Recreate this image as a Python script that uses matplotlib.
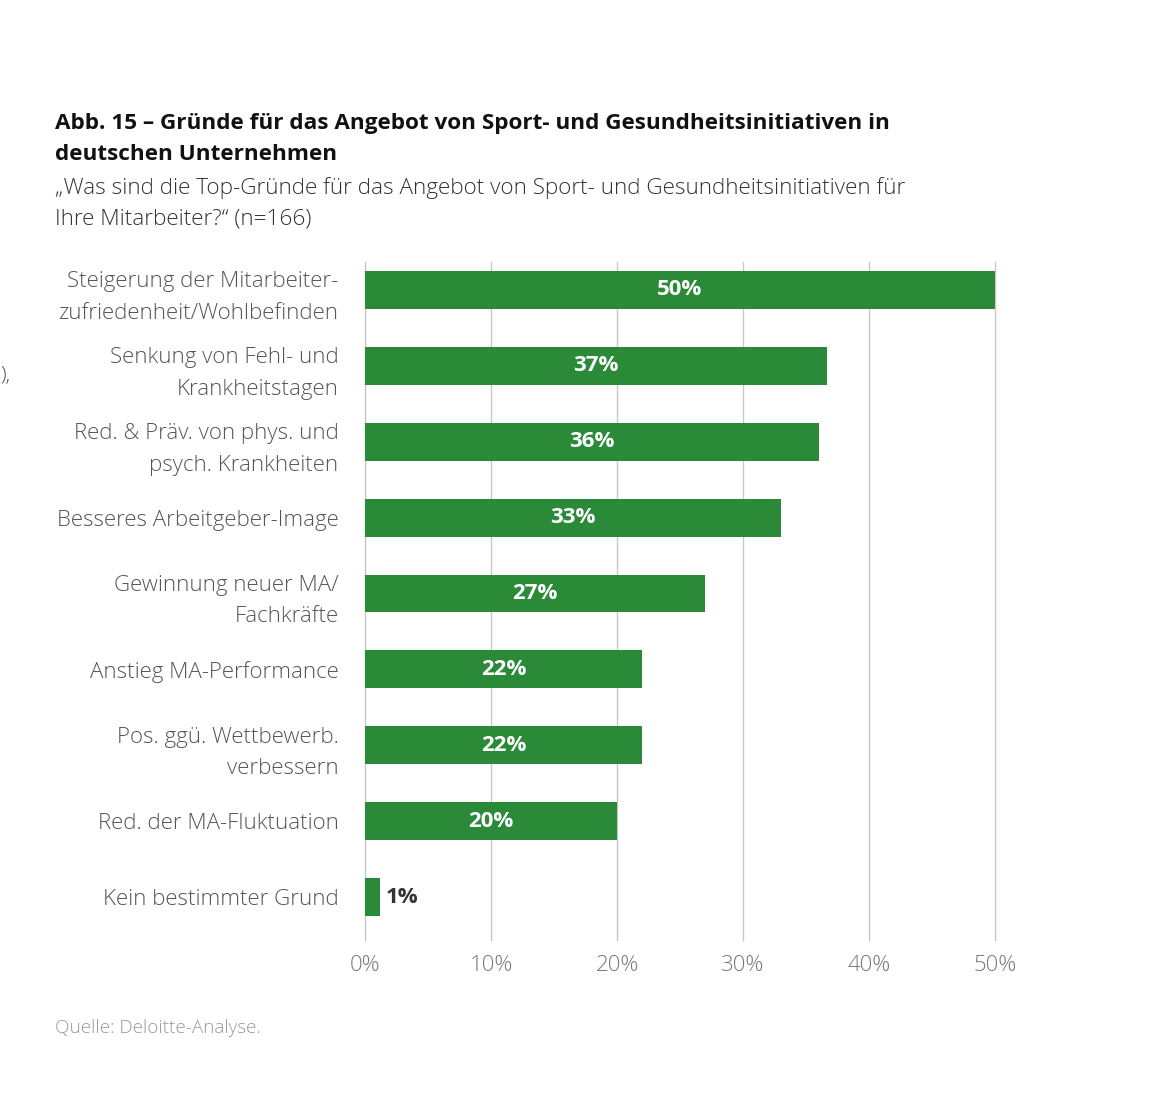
import numpy as np
import matplotlib.pyplot as plt

plt.rcParams['font.family'] = ['Open Sans', 'DejaVu Sans']

categories = [
    "Steigerung der Mitarbeiter-\nzufriedenheit/Wohlbefinden",
    "Senkung von Fehl- und\nKrankheitstagen",
    "Red. & Präv. von phys. und\npsych. Krankheiten",
    "Besseres Arbeitgeber-Image",
    "Gewinnung neuer MA/\nFachkräfte",
    "Anstieg MA-Performance",
    "Pos. ggü. Wettbewerb.\nverbessern",
    "Red. der MA-Fluktuation",
    "Kein bestimmter Grund",
]
values = [50, 36.7, 36, 33, 27, 22, 22, 20, 1.2]
ticks = [0, 10, 20, 30, 40, 50]

title_lines = [
    "Abb. 15 – Gründe für das Angebot von Sport- und Gesundheitsinitiativen in",
    "deutschen Unternehmen",
]
subtitle_lines = [
    "„Was sind die Top-Gründe für das Angebot von Sport- und Gesundheitsinitiativen für",
    "Ihre Mitarbeiter?“ (n=166)",
]
source = "Quelle: Deloitte-Analyse."

W, H = 1170, 1105
fig = plt.figure(figsize=(W / 100, H / 100), dpi=100)
ax = fig.add_axes([365 / W, 1 - 940 / H, 630 / W, (940 - 262) / H])

green = "#2a8a38"
y = np.arange(len(categories))
ax.barh(y, values, height=0.5, color=green, zorder=3)

for yi, v in zip(y, values):
    label = f"{round(v)}%"
    if v > 5:
        ax.text(v / 2, yi, label, ha="center", va="center", color="white",
                fontsize=16, fontweight="bold", zorder=4)
    else:
        ax.text(v + 0.45, yi, label, ha="left", va="center", color="#333333",
                fontsize=16, fontweight="bold", zorder=4)

ax.set_xlim(0, 50)
ax.set_ylim(8 + 43 / 75.9, -28 / 75.9)
ax.set_xticks(ticks)
ax.set_xticklabels([f"{t}%" for t in ticks], fontsize=16, color="#777777",
                   fontweight="light")
ax.set_yticks(y)
ax.set_yticklabels(categories, fontsize=16, color="#555555", linespacing=1.65,
                   fontweight="light")
ax.tick_params(axis="both", length=0)
ax.tick_params(axis="x", pad=11)
ax.tick_params(axis="y", pad=19)
ax.grid(axis="x", color="#c8c8c8", linewidth=1, zorder=0)
for gl in ax.get_xgridlines():
    gl.set_clip_on(False)
for s in ax.spines.values():
    s.set_visible(False)

x0 = 55 / W
fig.text(x0, 1 - 123 / H, title_lines[0], fontsize=16.2, fontweight="bold",
         color="#111111", va="center")
fig.text(x0, 1 - 155 / H, title_lines[1], fontsize=16.2, fontweight="bold",
         color="#111111", va="center")
fig.text(x0, 1 - 188 / H, subtitle_lines[0], fontsize=16.2, color="#333333",
         va="center", fontweight="light")
fig.text(x0, 1 - 219 / H, subtitle_lines[1], fontsize=16.2, color="#333333",
         va="center", fontweight="light")
fig.text(x0, 1 - 1028 / H, source, fontsize=13.6, color="#999999", va="center",
         fontweight="light")
fig.text(0.5 / W, 1 - 376 / H, "),", fontsize=15, color="#555555", ha="left",
         va="center", fontweight="light")

fig.savefig("out.png", dpi=100)
